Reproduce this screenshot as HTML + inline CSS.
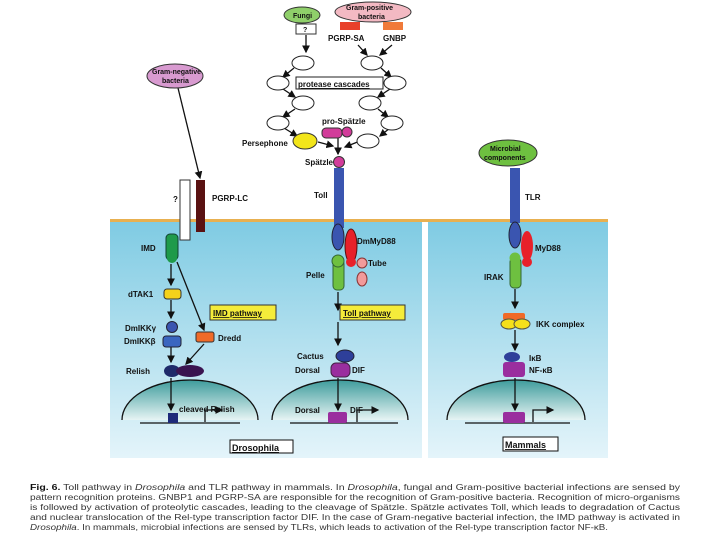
<!DOCTYPE html><html><head><style>body{margin:0;background:#fff}svg{display:block}text{font-family:"Liberation Sans",sans-serif;font-weight:bold;font-size:8px;fill:#111}.c{font-weight:normal;font-size:8.6px;fill:#333}</style></head><body>
<svg width="720" height="540" viewBox="0 0 720 540">
<defs><linearGradient id="bg" x1="0" y1="0" x2="0" y2="1"><stop offset="0" stop-color="#7fcbe3"/><stop offset="1" stop-color="#e4f4fa"/></linearGradient>
<linearGradient id="nu" x1="0" y1="0" x2="0" y2="1"><stop offset="0" stop-color="#3e9c9c"/><stop offset="1" stop-color="#e6f4f4"/></linearGradient>
<marker id="a" markerWidth="6" markerHeight="6" refX="5" refY="3" orient="auto"><path d="M0,0L6,3L0,6z" fill="#111"/></marker></defs>
<rect x="110" y="222" width="312" height="236" fill="url(#bg)"/>
<rect x="428" y="222" width="180" height="236" fill="url(#bg)"/>
<rect x="110" y="219" width="498" height="3" fill="#e8b050"/>
<g stroke="#111" fill="none" stroke-width="1.3">
<path d="M122,420A68,40 0 0 1 258,420Z" fill="url(#nu)" stroke="none"/><path d="M122,420A68,40 0 0 1 258,420"/>
<path d="M272,420A68,40 0 0 1 408,420Z" fill="url(#nu)" stroke="none"/><path d="M272,420A68,40 0 0 1 408,420"/>
<path d="M447,420A69,40 0 0 1 585,420Z" fill="url(#nu)" stroke="none"/><path d="M447,420A69,40 0 0 1 585,420"/>
<path d="M140,423H240M290,423H398M465,423H570"/>
<path d="M205,422V410H222" marker-end="url(#a)"/><path d="M357,422V410H378" marker-end="url(#a)"/><path d="M533,422V410H553" marker-end="url(#a)"/>
<path d="M306,35V52" marker-end="url(#a)"/><path d="M358,45L367,55" marker-end="url(#a)"/><path d="M392,45L380,55" marker-end="url(#a)"/>
<path d="M294,68L283,77" marker-end="url(#a)"/><path d="M283,89L295,97" marker-end="url(#a)"/><path d="M295,109L283,117" marker-end="url(#a)"/><path d="M284,128L297,136" marker-end="url(#a)"/>
<path d="M381,68L391,77" marker-end="url(#a)"/><path d="M390,89L378,97" marker-end="url(#a)"/><path d="M378,109L388,117" marker-end="url(#a)"/><path d="M390,128L380,136" marker-end="url(#a)"/>
<path d="M318,142L333,146" marker-end="url(#a)"/><path d="M360,141L345,147" marker-end="url(#a)"/><path d="M338,137V154" marker-end="url(#a)"/>
<path d="M178,88L200,178" marker-end="url(#a)"/>
<path d="M171,264V285" marker-end="url(#a)"/><path d="M171,300V318" marker-end="url(#a)"/><path d="M171,347V362" marker-end="url(#a)"/><path d="M171,378V410" marker-end="url(#a)"/>
<path d="M177,262L204,330" marker-end="url(#a)"/><path d="M204,344L186,364" marker-end="url(#a)"/>
<path d="M338,292V310" marker-end="url(#a)"/><path d="M338,322V345" marker-end="url(#a)"/><path d="M338,378V410" marker-end="url(#a)"/>
<path d="M515,289V308" marker-end="url(#a)"/><path d="M515,330V350" marker-end="url(#a)"/><path d="M515,378V410" marker-end="url(#a)"/>
</g>
<ellipse cx="302" cy="15" rx="18" ry="8" fill="#8fcf6a" stroke="#333"/><text x="293" y="18" style="font-size:7px">Fungi</text>
<ellipse cx="373" cy="12" rx="38" ry="10" fill="#f3b9c3" stroke="#333"/><text x="346" y="10" style="font-size:7px">Gram-positive</text><text x="358" y="19" style="font-size:7px">bacteria</text>
<rect x="296" y="24" width="20" height="10" fill="#fff" stroke="#333"/><text x="303" y="32" style="font-size:7px">?</text>
<rect x="340" y="22" width="20" height="8" fill="#e8402a"/><rect x="383" y="22" width="20" height="8" fill="#f07a3a"/>
<text x="328" y="41">PGRP-SA</text><text x="383" y="41">GNBP</text>
<g fill="#fff" stroke="#222"><ellipse cx="303" cy="63" rx="11" ry="7"/><ellipse cx="278" cy="83" rx="11" ry="7"/><ellipse cx="303" cy="103" rx="11" ry="7"/><ellipse cx="278" cy="123" rx="11" ry="7"/>
<ellipse cx="372" cy="63" rx="11" ry="7"/><ellipse cx="395" cy="83" rx="11" ry="7"/><ellipse cx="370" cy="103" rx="11" ry="7"/><ellipse cx="392" cy="123" rx="11" ry="7"/><ellipse cx="368" cy="141" rx="11" ry="7"/>
<rect x="296" y="77" width="87" height="12"/></g>
<text x="298" y="87" style="text-decoration:underline">protease cascades</text>
<ellipse cx="305" cy="141" rx="12" ry="8" fill="#f2e51a" stroke="#333"/><text x="242" y="146">Persephone</text>
<rect x="322" y="128" width="20" height="10" rx="4" fill="#d23c9a" stroke="#333"/><circle cx="347" cy="132" r="5" fill="#d23c9a" stroke="#333"/><text x="322" y="124">pro-Spätzle</text>
<circle cx="339" cy="162" r="5.5" fill="#d23c9a" stroke="#333"/><text x="305" y="165">Spätzle</text>
<ellipse cx="175" cy="76" rx="28" ry="12" fill="#d89ad0" stroke="#333"/><text x="152" y="74" style="font-size:7px">Gram-negative</text><text x="162" y="83" style="font-size:7px">bacteria</text>
<rect x="180" y="180" width="10" height="60" fill="#fff" stroke="#333"/><rect x="196" y="180" width="9" height="52" fill="#5a1212"/><text x="173" y="202">?</text><text x="212" y="201">PGRP-LC</text>
<rect x="334" y="168" width="10" height="60" fill="#3a55b0"/><text x="314" y="198">Toll</text>
<ellipse cx="338" cy="237" rx="6" ry="13" fill="#3a55b0" stroke="#223"/>
<ellipse cx="351" cy="246" rx="6" ry="17" fill="#e8202a" stroke="#511"/><circle cx="351" cy="262" r="5" fill="#e8202a"/><text x="357" y="244">DmMyD88</text>
<rect x="333" y="260" width="11" height="30" rx="4" fill="#6ec040" stroke="#363"/><circle cx="338" cy="261" r="6" fill="#6ec040" stroke="#363"/><text x="306" y="278">Pelle</text>
<circle cx="362" cy="263" r="5" fill="#f29a9a" stroke="#833"/><ellipse cx="362" cy="279" rx="5" ry="7" fill="#f29a9a" stroke="#833"/><text x="368" y="266">Tube</text>
<rect x="340" y="305" width="65" height="15" fill="#f5ec3a" stroke="#333"/><text x="343" y="316" style="text-decoration:underline">Toll pathway</text>
<ellipse cx="345" cy="356" rx="9" ry="6" fill="#2e3f9a" stroke="#223"/><text x="297" y="359">Cactus</text>
<rect x="331" y="363" width="19" height="14" rx="5" fill="#9a2e9e" stroke="#424"/><text x="295" y="373">Dorsal</text><text x="352" y="373">DIF</text>
<rect x="328" y="412" width="19" height="11" rx="2" fill="#9a2e9e"/><text x="295" y="413">Dorsal</text><text x="350" y="413">DIF</text>
<rect x="166" y="234" width="12" height="26" rx="4" fill="#1f9a4a" stroke="#143"/><circle cx="172" cy="258" r="5" fill="#1f9a4a"/><text x="141" y="251">IMD</text>
<rect x="164" y="289" width="17" height="10" rx="3" fill="#f5d21a" stroke="#333"/><text x="128" y="297">dTAK1</text>
<circle cx="172" cy="327" r="5.5" fill="#3a55b0" stroke="#223"/><rect x="163" y="336" width="18" height="11" rx="3" fill="#3a66c0" stroke="#223"/><text x="125" y="331">DmIKKγ</text><text x="124" y="344">DmIKKβ</text>
<rect x="196" y="332" width="18" height="10" rx="2" fill="#f06a28" stroke="#333"/><text x="218" y="341">Dredd</text>
<rect x="210" y="305" width="66" height="15" fill="#f5ec3a" stroke="#333"/><text x="213" y="316" style="text-decoration:underline">IMD pathway</text>
<ellipse cx="172" cy="371" rx="8" ry="6" fill="#1e2a6a"/><ellipse cx="190" cy="371" rx="14" ry="6" fill="#3a1450"/><text x="126" y="374">Relish</text>
<rect x="168" y="413" width="10" height="10" fill="#1e2a7a"/><text x="179" y="412">cleaved Relish</text>
<rect x="230" y="440" width="63" height="13" fill="#fff" stroke="#111"/><text x="232" y="451" style="font-size:9px;text-decoration:underline">Drosophila</text>
<ellipse cx="508" cy="153" rx="29" ry="13" fill="#6ec040" stroke="#333"/><text x="490" y="151" style="font-size:7px">Microbial</text><text x="484" y="160" style="font-size:7px">components</text>
<rect x="510" y="168" width="10" height="55" fill="#3a55b0"/><text x="525" y="200">TLR</text>
<ellipse cx="515" cy="235" rx="6" ry="13" fill="#3a55b0" stroke="#223"/>
<ellipse cx="527" cy="246" rx="6" ry="15" fill="#e8202a"/><circle cx="527" cy="262" r="5" fill="#e8202a"/><text x="535" y="251">MyD88</text>
<rect x="510" y="258" width="11" height="30" rx="4" fill="#6ec040" stroke="#363"/><circle cx="515" cy="258" r="5.5" fill="#6ec040"/><text x="484" y="280">IRAK</text>
<rect x="503" y="313" width="22" height="7" rx="2" fill="#f06a28"/><ellipse cx="509" cy="324" rx="8" ry="5" fill="#f5e01a" stroke="#554"/><ellipse cx="522" cy="324" rx="8" ry="5" fill="#f5e01a" stroke="#554"/><text x="536" y="327">IKK complex</text>
<ellipse cx="512" cy="357" rx="8" ry="5" fill="#2e3f9a"/><rect x="503" y="362" width="22" height="15" rx="3" fill="#9a2e9e"/><text x="529" y="361">IκB</text><text x="529" y="373">NF-κB</text>
<rect x="503" y="412" width="22" height="11" rx="2" fill="#9a2e9e"/>
<rect x="503" y="437" width="55" height="14" fill="#fff" stroke="#111"/><text x="505" y="448" style="font-size:9px;text-decoration:underline">Mammals</text>
<text class="c" x="30" y="490" textLength="650" lengthAdjust="spacingAndGlyphs"><tspan font-weight="bold" fill="#111">Fig. 6.</tspan> Toll pathway in <tspan font-style="italic">Drosophila</tspan> and TLR pathway in mammals. In <tspan font-style="italic">Drosophila</tspan>, fungal and Gram-positive bacterial infections are sensed by</text>
<text class="c" x="30" y="500" textLength="650" lengthAdjust="spacingAndGlyphs">pattern recognition proteins. GNBP1 and PGRP-SA are responsible for the recognition of Gram-positive bacteria. Recognition of micro-organisms</text>
<text class="c" x="30" y="510" textLength="650" lengthAdjust="spacingAndGlyphs">is followed by activation of proteolytic cascades, leading to the cleavage of Spätzle. Spätzle activates Toll, which leads to degradation of Cactus</text>
<text class="c" x="30" y="520" textLength="650" lengthAdjust="spacingAndGlyphs">and nuclear translocation of the Rel-type transcription factor DIF. In the case of Gram-negative bacterial infection, the IMD pathway is activated in</text>
<text class="c" x="30" y="530" textLength="578" lengthAdjust="spacingAndGlyphs"><tspan font-style="italic">Drosophila</tspan>. In mammals, microbial infections are sensed by TLRs, which leads to activation of the Rel-type transcription factor NF-κB.</text>
</svg></body></html>
